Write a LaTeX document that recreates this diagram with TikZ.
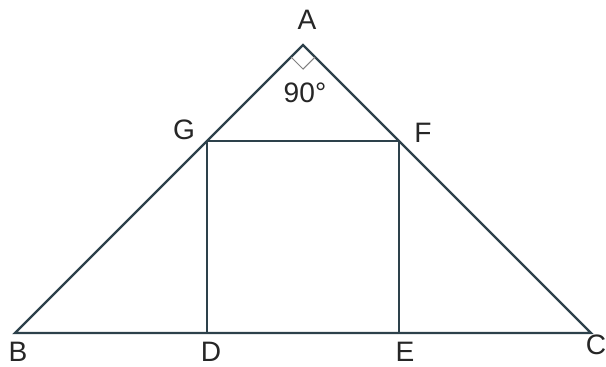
\documentclass[tikz,border=0pt]{standalone}
\usepackage{fontspec}
\setmainfont{Liberation Sans}
\usepackage{tikz}
\usetikzlibrary{calc}

\definecolor{inkline}{RGB}{45,65,75}

\begin{document}
\begin{tikzpicture}[
		x=0.02cm,
		y=-0.02cm,
		every node/.style={font=\fontsize{16}{18}\selectfont, text=black!85},
		edge/.style={line width=1.3pt, draw=inkline}
		]
		
		\useasboundingbox (0,0) rectangle (606,366);
		
		% vertices of the triangle and the rectangle
		\coordinate (A) at (303,45);
		\coordinate (B) at (15,333);
		\coordinate (C) at (591,333);
		\coordinate (G) at (207,141);
		\coordinate (F) at (399,141);
		\coordinate (D) at (207,333);
		\coordinate (E) at (399,333);
		
		% triangle ABC
		\draw[edge] (A) -- (B) -- (C) -- cycle;
		
		% rectangle DEFG
		\draw[edge] (G) -- (F) (G) -- (D) (F) -- (E);
		
		% right angle mark at A
		\draw[gray, line width=0.6pt]
		($(A)+(-12,12)$) -- ($(A)+(0,24)$) -- ($(A)+(12,12)$);
		
		% labels
		\node (lA) at (307,20) {A};
		\node (lB) at (18,352) {B};
		\node (lC) at (596,345) {C};
		\node (lD) at (211,352) {D};
		\node (lE) at (405,352) {E};
		\node (lF) at (423,133) {F};
		\node (lG) at (184,130) {G};
		\node (l90) at (305,93) {90°};
		
	\end{tikzpicture}
\end{document}
